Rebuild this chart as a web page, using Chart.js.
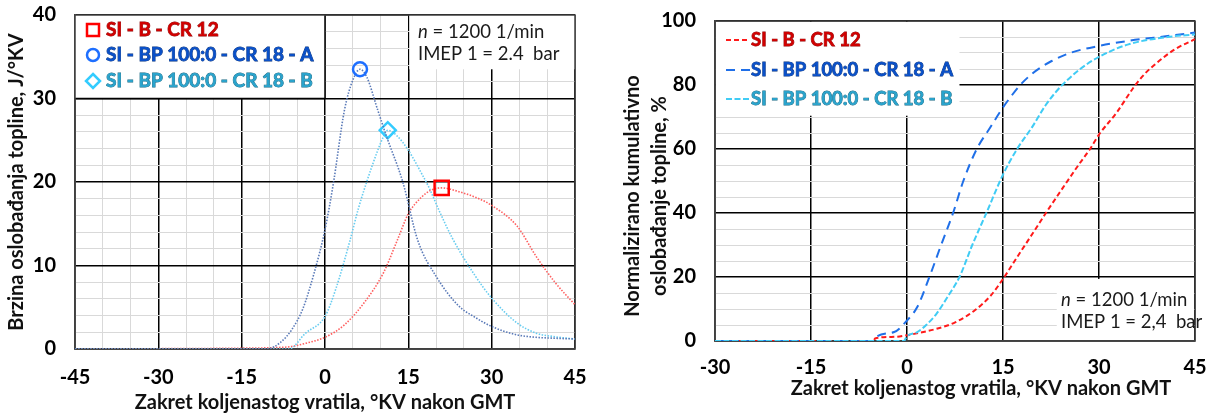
<!DOCTYPE html>
<html><head><meta charset="utf-8">
<script src="https://cdn.jsdelivr.net/npm/chart.js@4/dist/chart.umd.min.js"></script>
<style>
html,body{margin:0;padding:0;background:#fff;width:1210px;height:416px;overflow:hidden}
#c1{position:absolute;left:0;top:0}
#c2{position:absolute;left:605px;top:0}
</style></head><body>
<canvas id="c1" width="605" height="416"></canvas>
<canvas id="c2" width="605" height="416"></canvas>
<script>
const FONT = "Lato, 'Open Sans', sans-serif";

const seriesLabels = ['SI - B - CR 12', 'SI - BP 100:0 - CR 18 - A', 'SI - BP 100:0 - CR 18 - B'];
const xTitle = 'Zakret koljenastog vratila, °KV nakon GMT';
const leftYTitle = 'Brzina oslobađanja topline, J/°KV';
const rightYTitle = ['Normalizirano kumulativno', 'oslobađanje topline, %'];
const leftNote = ['n', ' = 1200 1/min', 'IMEP 1 = 2.4  bar'];
const rightNote = ['n', ' = 1200 1/min', 'IMEP 1 = 2,4  bar'];

// Left chart: heat release rate, J/°KV
const hrrRedX = [-45, -15, -10, -6, -3.4, 0, 3.5, 7, 10.5, 13, 15, 17.4, 19, 21, 24.3, 27.7, 30, 34.6, 38, 41.5, 45];
const hrrRedY = [0, 0.1, 0.15, 0.3, 0.7, 1.4, 2.9, 5.5, 9.1, 13, 16.2, 18.2, 19.0, 19.3, 18.8, 18.0, 17.2, 14.7, 11.1, 7.9, 5.3];
const hrrAX = [-45, -10.5, -8, -6, -4, -2, 0, 1.5, 3.5, 5, 6.3, 7.5, 9.5, 11, 14, 16.7, 20, 24, 27, 30, 34.5, 38, 41, 45];
const hrrAY = [0, 0, 0.8, 2.3, 4.8, 9, 14.3, 19.8, 28.6, 32.2, 33.5, 32.6, 28.6, 25.6, 20, 13, 8.7, 5.2, 3.8, 2.7, 1.7, 1.4, 1.3, 1.2];
const hrrBX = [-45, -6.5, -3.5, 0, 2, 4.5, 6, 7.5, 9.5, 10.5, 11.3, 13, 15, 17.4, 18.6, 20.8, 22.9, 27, 30, 34.6, 38, 41, 45];
const hrrBY = [0, 0, 1.9, 3.9, 7.3, 13, 16.8, 20, 23.8, 25.4, 26.2, 25.5, 23.8, 21, 19.5, 16.2, 13.3, 8.8, 6.1, 3.1, 1.9, 1.5, 1.2];

// Right chart: normalised cumulative heat release, %
const cumRedX = [-30, -5.2, -5, -2, 0, 2, 4.6, 7.6, 10.6, 13, 15, 17.2, 19.6, 21.7, 24.4, 26.8, 28.6, 30, 32.8, 35.5, 37.2, 38.9, 41.9, 45];
const cumRedY = [0, 0, 0.8, 1.3, 1.8, 2.6, 3.8, 5.9, 9.6, 14, 19.4, 26.2, 33.5, 40, 48, 55, 60, 64.5, 71.5, 79.5, 83.6, 86.7, 91.2, 94.3];
const cumAX = [-30, -5.2, -5, -2, 0, 1.6, 3.5, 5.2, 7.2, 8.8, 10.9, 13, 15, 16.2, 17.6, 19.6, 22.6, 25.6, 30, 34.6, 40.7, 45];
const cumAY = [0, 0, 1, 2.8, 6.4, 10.6, 20, 29.3, 40, 50, 60, 66.7, 73, 76.3, 79.8, 83.6, 87.5, 90.1, 92.2, 93.8, 95.3, 96.4];
const cumBX = [-30, -0.5, 0, 1.6, 3, 4.6, 6.4, 8.2, 10.2, 12.4, 15, 17.2, 19.6, 21.6, 23.6, 25.2, 27, 30, 34.6, 40.7, 45];
const cumBY = [0, 0, 1.5, 2.8, 5, 8.5, 14, 20, 30, 40, 52, 60, 67, 73.5, 78.6, 81.8, 84.9, 88.8, 92.7, 95, 95.8];

const zip = (xs, ys) => xs.map((x, i) => ({x, y: ys[i]}));
const peakRadius = (ys, r) => ctx => ctx.dataIndex === ys.indexOf(Math.max(...ys)) ? r : 0;

function seg(ctx, x1, y1, x2, y2) { ctx.beginPath(); ctx.moveTo(x1, y1); ctx.lineTo(x2, y2); ctx.stroke(); }

function drawNote(ctx, parts, x, y1, y2) {
  ctx.save();
  ctx.fillStyle = '#1a1a1a';
  ctx.textBaseline = 'middle';
  ctx.textAlign = 'left';
  ctx.font = "italic 18.5px " + FONT;
  ctx.fillText(parts[0], x, y1);
  const w = ctx.measureText(parts[0]).width;
  ctx.font = "18.5px " + FONT;
  ctx.fillText(parts[1], x + w, y1);
  ctx.fillText(parts[2], x, y2);
  ctx.restore();
}

const legendText = [
  {fill: '#D00000', stroke: '#8A0000'},
  {fill: '#0A50C8', stroke: '#05307A'},
  {fill: '#2AA3CC', stroke: '#146680'}
];
function drawLegendText(ctx, i, x, y, size) {
  ctx.save();
  ctx.font = "bold " + size + "px " + FONT;
  ctx.textBaseline = 'middle';
  ctx.textAlign = 'left';
  ctx.lineWidth = 0.8;
  ctx.strokeStyle = legendText[i].stroke;
  ctx.strokeText(seriesLabels[i], x, y);
  ctx.fillStyle = legendText[i].fill;
  ctx.fillText(seriesLabels[i], x, y);
  ctx.restore();
}

const leftDecor = {
  id: 'leftDecor',
  beforeDatasetsDraw(chart) {
    const {ctx, chartArea: a, scales: {x, y}} = chart;
    ctx.save();
    ctx.fillStyle = '#fff';
    const x0 = x.getPixelForValue(0), y30 = y.getPixelForValue(30);
    ctx.fillRect(a.left, a.top, x0 - a.left, y30 - a.top);
    const x15 = x.getPixelForValue(15), yT = y.getPixelForValue(33.5);
    ctx.fillRect(x15 + 1, a.top, a.right - x15 - 1, yT - a.top);
    ctx.strokeStyle = '#000'; ctx.lineWidth = 1.5;
    seg(ctx, x0, a.top, x0, y30);
    seg(ctx, a.left, y30, x0, y30);
    ctx.strokeStyle = '#404040'; ctx.lineWidth = 1.5;
    ctx.strokeRect(a.left, a.top, a.right - a.left, a.bottom - a.top);
    ctx.restore();
  },
  afterDatasetsDraw(chart) {
    const ctx = chart.ctx;
    ctx.save();
    ctx.lineWidth = 2.5;
    ctx.strokeStyle = '#FF0000';
    ctx.strokeRect(87, 24, 12, 12);
    ctx.strokeStyle = '#1E6FFF';
    ctx.beginPath(); ctx.arc(93, 55, 6, 0, Math.PI * 2); ctx.stroke();
    ctx.strokeStyle = '#33CCFF';
    ctx.beginPath(); ctx.moveTo(93, 74); ctx.lineTo(100, 81); ctx.lineTo(93, 88); ctx.lineTo(86, 81); ctx.closePath(); ctx.stroke();
    ctx.restore();
    drawLegendText(ctx, 0, 106, 30, 19);
    drawLegendText(ctx, 1, 106, 55, 19);
    drawLegendText(ctx, 2, 106, 81, 19);
    drawNote(ctx, leftNote, 418, 32, 54);
  }
};

const rightDecor = {
  id: 'rightDecor',
  beforeDatasetsDraw(chart) {
    const {ctx, chartArea: a, scales: {x, y}} = chart;
    ctx.save();
    ctx.fillStyle = '#fff';
    const xl = x.getPixelForValue(8.2), yl = y.getPixelForValue(70.4);
    ctx.fillRect(a.left + 1, a.top + 1, xl - a.left - 1, yl - a.top - 1);
    const xn = x.getPixelForValue(23.4), yn = y.getPixelForValue(19.4);
    ctx.fillRect(xn, yn, a.right - xn - 1, a.bottom - yn - 1);
    ctx.strokeStyle = '#404040'; ctx.lineWidth = 1.5;
    ctx.strokeRect(a.left, a.top, a.right - a.left, a.bottom - a.top);
    ctx.restore();
  },
  afterDatasetsDraw(chart) {
    const ctx = chart.ctx;
    ctx.save();
    ctx.lineWidth = 2;
    const samples = [
      {c: '#FF1A1A', d: [5, 3], y: 40},
      {c: '#1F6FE8', d: [9, 6], y: 70},
      {c: '#40CCF5', d: [6, 2.5], y: 99}
    ];
    samples.forEach(s => { ctx.strokeStyle = s.c; ctx.setLineDash(s.d); seg(ctx, 121, s.y, 145, s.y); });
    ctx.setLineDash([]);
    ctx.restore();
    drawLegendText(ctx, 0, 146, 40, 18.5);
    drawLegendText(ctx, 1, 146, 70, 18.5);
    drawLegendText(ctx, 2, 146, 99, 18.5);
    drawNote(ctx, rightNote, 456, 300, 322);
  },
  afterDraw(chart) {
    const ctx = chart.ctx;
    ctx.save();
    ctx.fillStyle = '#111';
    ctx.font = "bold 20px " + FONT;
    ctx.textAlign = 'center';
    ctx.textBaseline = 'middle';
    ctx.fillText(xTitle, 376, 389);
    ctx.translate(0, 196);
    ctx.rotate(-Math.PI / 2);
    ctx.fillText(rightYTitle[0], 0, 28);
    ctx.fillText(rightYTitle[1], 0, 55);
    ctx.restore();
  }
};

const tickFont = {family: FONT, size: 20, weight: 'bold'};
const titleFont = {family: FONT, size: 20, weight: 'bold'};
const gridStyle = (major) => ({
  drawTicks: false,
  color: ctx => (ctx.tick && ctx.tick.value % major === 0) ? '#000' : '#D9D9D9',
  lineWidth: ctx => (ctx.tick && ctx.tick.value % major === 0) ? 1.5 : 1
});

new Chart(document.getElementById('c1'), {
  type: 'line',
  data: {datasets: [
    {label: seriesLabels[1], data: zip(hrrAX, hrrAY), borderColor: '#5A7AB8', borderWidth: 1.6, borderDash: [1.5, 1.5],
     cubicInterpolationMode: 'monotone', pointStyle: 'circle', pointRadius: peakRadius(hrrAY, 7),
     pointBorderColor: '#1E6FFF', pointBorderWidth: 2.5, pointBackgroundColor: 'rgba(0,0,0,0)'},
    {label: seriesLabels[2], data: zip(hrrBX, hrrBY), borderColor: '#66CCF0', borderWidth: 1.6, borderDash: [1.5, 1.5],
     cubicInterpolationMode: 'monotone', pointStyle: 'rectRot', pointRadius: peakRadius(hrrBY, 8),
     pointBorderColor: '#33CCFF', pointBorderWidth: 2.5, pointBackgroundColor: 'rgba(0,0,0,0)'},
    {label: seriesLabels[0], data: zip(hrrRedX, hrrRedY), borderColor: '#FF5F5F', borderWidth: 1.6, borderDash: [1.5, 1.5],
     cubicInterpolationMode: 'monotone', pointStyle: 'rect', pointRadius: peakRadius(hrrRedY, 10),
     pointBorderColor: '#FF0000', pointBorderWidth: 2.5, pointBackgroundColor: 'rgba(0,0,0,0)'}
  ]},
  options: {
    responsive: false, animation: false, events: [],
    layout: {padding: {top: 15, right: 30, left: 0, bottom: 0}},
    plugins: {legend: {display: false}, tooltip: {enabled: false}},
    scales: {
      x: {type: 'linear', min: -45, max: 45,
        ticks: {stepSize: 5, autoSkip: false, maxRotation: 0, padding: 17, color: '#000', font: tickFont,
          callback: v => v % 15 === 0 ? String(v) : ''},
        grid: gridStyle(15), border: {color: '#404040', width: 1.5},
        title: {display: true, text: xTitle, color: '#111', font: titleFont, padding: {top: 0, bottom: 1}},
        afterFit: s => { s.height = 67; s.paddingLeft = 0; s.paddingRight = 0; }},
      y: {min: 0, max: 40,
        ticks: {stepSize: 2, autoSkip: false, padding: 19, color: '#000', font: tickFont,
          callback: v => v % 10 === 0 ? String(v) : ''},
        grid: gridStyle(10), border: {color: '#404040', width: 1.5},
        title: {display: true, text: leftYTitle, color: '#111', font: titleFont, padding: {top: 5, bottom: 0}},
        afterFit: s => { s.width = 75; s.paddingTop = 0; s.paddingBottom = 0; }}
    }
  },
  plugins: [leftDecor]
});

new Chart(document.getElementById('c2'), {
  type: 'line',
  data: {datasets: [
    {label: seriesLabels[2], data: zip(cumBX, cumBY), borderColor: '#40CCF5', borderWidth: 2, borderDash: [6, 2.5],
     cubicInterpolationMode: 'monotone', pointRadius: 0},
    {label: seriesLabels[1], data: zip(cumAX, cumAY), borderColor: '#1F6FE8', borderWidth: 2, borderDash: [9, 6],
     cubicInterpolationMode: 'monotone', pointRadius: 0},
    {label: seriesLabels[0], data: zip(cumRedX, cumRedY), borderColor: '#FF1A1A', borderWidth: 2, borderDash: [5, 3],
     cubicInterpolationMode: 'monotone', pointRadius: 0}
  ]},
  options: {
    responsive: false, animation: false, events: [],
    layout: {padding: {top: 21, right: 15, left: 0, bottom: 0}},
    plugins: {legend: {display: false}, tooltip: {enabled: false}},
    scales: {
      x: {type: 'linear', min: -30, max: 45,
        ticks: {stepSize: 15, autoSkip: false, maxRotation: 0, padding: 15, color: '#000', font: tickFont,
          callback: v => String(v)},
        grid: gridStyle(15), border: {color: '#404040', width: 1.5},
        afterFit: s => { s.height = 75; s.paddingLeft = 0; s.paddingRight = 0; }},
      y: {min: 0, max: 100,
        ticks: {stepSize: 5, autoSkip: false, padding: 19, color: '#000', font: tickFont,
          callback: v => v % 20 === 0 ? String(v) : ''},
        grid: gridStyle(20), border: {color: '#404040', width: 1.5},
        afterFit: s => { s.width = 110; s.paddingTop = 0; s.paddingBottom = 0; }}
    }
  },
  plugins: [rightDecor]
});
</script>
</body></html>
